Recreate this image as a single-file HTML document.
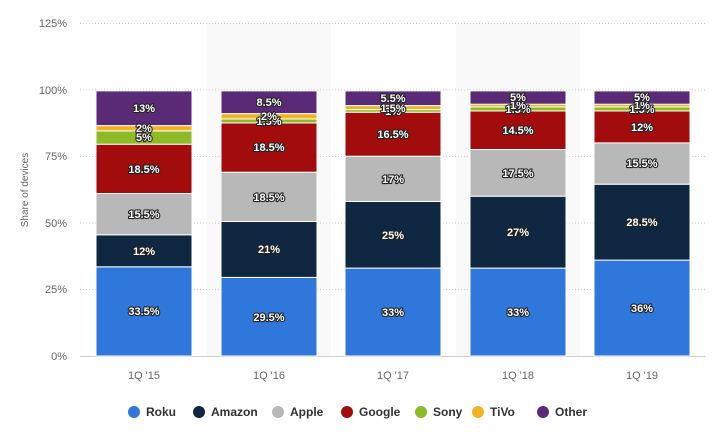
<!DOCTYPE html>
<html><head><meta charset="utf-8"><style>
body{margin:0;background:#fff}
svg text{font-family:"Liberation Sans",sans-serif}
.l{fill:#fff;font-weight:bold;font-size:11px;text-anchor:middle;paint-order:stroke;stroke:#222;stroke-width:2.2px;stroke-linejoin:round}
.ax{fill:#666;font-size:11px}
.lg{fill:#333;font-size:12px;font-weight:bold}
</style></head><body>
<svg width="722" height="435" xmlns="http://www.w3.org/2000/svg">
<rect x="207" y="23" width="124" height="333" fill="#f9f9f9"/>
<rect x="456" y="23" width="124" height="333" fill="#f9f9f9"/>
<g stroke="#ccc" stroke-dasharray="1,2">
<line x1="80" x2="705" y1="23.5" y2="23.5"/><line x1="80" x2="705" y1="90" y2="90"/>
<line x1="80" x2="705" y1="156.5" y2="156.5"/><line x1="80" x2="705" y1="223" y2="223"/>
<line x1="80" x2="705" y1="289.5" y2="289.5"/></g>
<line x1="80" x2="705" y1="356.5" y2="356.5" stroke="#ccc"/>
<g class="ax" text-anchor="end">
<text x="67" y="27">125%</text><text x="67" y="94">100%</text><text x="67" y="160">75%</text>
<text x="67" y="227">50%</text><text x="67" y="293">25%</text><text x="67" y="360">0%</text></g>
<text class="ax" font-size="10" transform="translate(28,190) rotate(-90)" text-anchor="middle" style="font-size:10px">Share of devices</text>
<g class="ax" text-anchor="middle">
<text x="144" y="379">1Q '15</text><text x="269" y="379">1Q '16</text><text x="393" y="379">1Q '17</text>
<text x="518" y="379">1Q '18</text><text x="642" y="379">1Q '19</text></g>
<g stroke="#fff" stroke-width="1">
<!-- 15 -->
<rect x="96" y="266.8" width="96" height="89.2" fill="#2f77db"/>
<rect x="96" y="234.8" width="96" height="32" fill="#0f2740"/>
<rect x="96" y="193.5" width="96" height="41.3" fill="#b8b8b8"/>
<rect x="96" y="144.2" width="96" height="49.3" fill="#a20c0c"/>
<rect x="96" y="130.9" width="96" height="13.3" fill="#8dba27"/>
<rect x="96" y="125.6" width="96" height="5.3" fill="#f0b323"/>
<rect x="96" y="90.9" width="96" height="34.7" fill="#5b2a76"/>
<!-- 16 -->
<rect x="221" y="277.4" width="96" height="78.6" fill="#2f77db"/>
<rect x="221" y="221.5" width="96" height="55.9" fill="#0f2740"/>
<rect x="221" y="172.2" width="96" height="49.3" fill="#b8b8b8"/>
<rect x="221" y="122.9" width="96" height="49.3" fill="#a20c0c"/>
<rect x="221" y="118.9" width="96" height="4" fill="#8dba27"/>
<rect x="221" y="113.6" width="96" height="5.3" fill="#f0b323"/>
<rect x="221" y="90.9" width="96" height="22.7" fill="#5b2a76"/>
<!-- 17 -->
<rect x="345" y="268.1" width="96" height="87.9" fill="#2f77db"/>
<rect x="345" y="201.5" width="96" height="66.6" fill="#0f2740"/>
<rect x="345" y="156.2" width="96" height="45.3" fill="#b8b8b8"/>
<rect x="345" y="112.2" width="96" height="44" fill="#a20c0c"/>
<rect x="345" y="109.6" width="96" height="2.6" fill="#8dba27"/>
<rect x="345" y="105.6" width="96" height="4" fill="#f0b323"/>
<rect x="345" y="90.9" width="96" height="14.7" fill="#5b2a76"/>
<!-- 18 -->
<rect x="470" y="268.1" width="96" height="87.9" fill="#2f77db"/>
<rect x="470" y="196.2" width="96" height="71.9" fill="#0f2740"/>
<rect x="470" y="149.5" width="96" height="46.7" fill="#b8b8b8"/>
<rect x="470" y="110.9" width="96" height="38.6" fill="#a20c0c"/>
<rect x="470" y="106.9" width="96" height="4" fill="#8dba27"/>
<rect x="470" y="104.2" width="96" height="2.7" fill="#f0b323"/>
<rect x="470" y="90.9" width="96" height="13.3" fill="#5b2a76"/>
<!-- 19 -->
<rect x="594" y="260.1" width="96" height="95.9" fill="#2f77db"/>
<rect x="594" y="184.2" width="96" height="75.9" fill="#0f2740"/>
<rect x="594" y="142.9" width="96" height="41.3" fill="#b8b8b8"/>
<rect x="594" y="110.9" width="96" height="32" fill="#a20c0c"/>
<rect x="594" y="106.9" width="96" height="4" fill="#8dba27"/>
<rect x="594" y="104.2" width="96" height="2.7" fill="#f0b323"/>
<rect x="594" y="90.9" width="96" height="13.3" fill="#5b2a76"/>
</g>
<g class="l">
<text x="144" y="315">33.5%</text><text x="144" y="255">12%</text><text x="144" y="218">15.5%</text><text x="144" y="173">18.5%</text><text x="144" y="141">5%</text><text x="144" y="132">2%</text><text x="144" y="112">13%</text>
<text x="269" y="321">29.5%</text><text x="269" y="253">21%</text><text x="269" y="201">18.5%</text><text x="269" y="151">18.5%</text><text x="269" y="125">1.5%</text><text x="269" y="120">2%</text><text x="269" y="106">8.5%</text>
<text x="393" y="316">33%</text><text x="393" y="239">25%</text><text x="393" y="183">17%</text><text x="393" y="138">16.5%</text><text x="393" y="115">1%</text><text x="393" y="112">1.5%</text><text x="393" y="102">5.5%</text>
<text x="518" y="316">33%</text><text x="518" y="236">27%</text><text x="518" y="177">17.5%</text><text x="518" y="134">14.5%</text><text x="518" y="113">1.5%</text><text x="518" y="109">1%</text><text x="518" y="101">5%</text>
<text x="642" y="312">36%</text><text x="642" y="226">28.5%</text><text x="642" y="167">15.5%</text><text x="642" y="131">12%</text><text x="642" y="113">1.5%</text><text x="642" y="109">1%</text><text x="642" y="101">5%</text>
</g>
<g class="lg">
<circle cx="134" cy="412" r="6" fill="#2f77db"/><text x="146" y="416">Roku</text>
<circle cx="199" cy="412" r="6" fill="#0f2740"/><text x="211" y="416">Amazon</text>
<circle cx="278" cy="412" r="6" fill="#b8b8b8"/><text x="290" y="416">Apple</text>
<circle cx="347" cy="412" r="6" fill="#a20c0c"/><text x="359" y="416">Google</text>
<circle cx="421" cy="412" r="6" fill="#8dba27"/><text x="433" y="416">Sony</text>
<circle cx="478" cy="412" r="6" fill="#f0b323"/><text x="490" y="416">TiVo</text>
<circle cx="543" cy="412" r="6" fill="#5b2a76"/><text x="555" y="416">Other</text>
</g>
</svg>
</body></html>
